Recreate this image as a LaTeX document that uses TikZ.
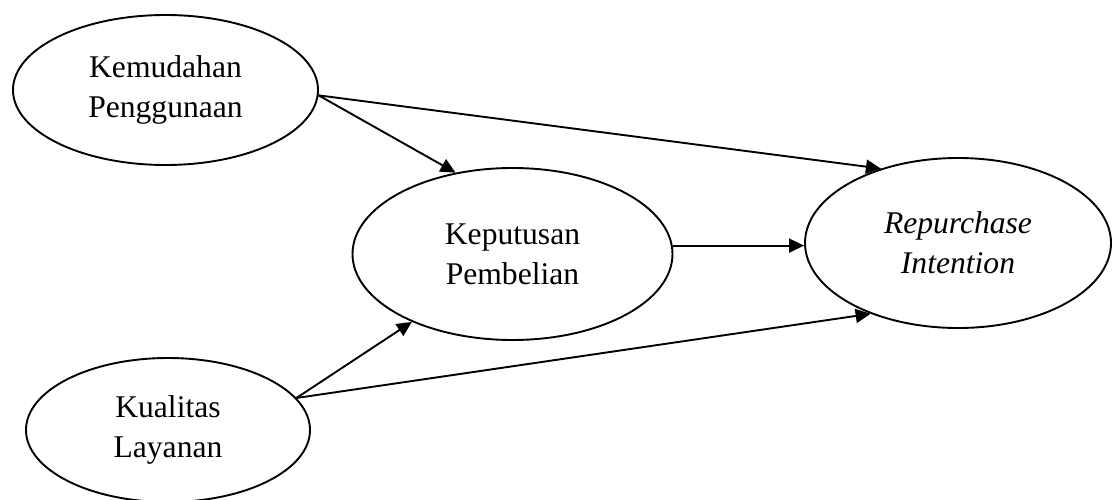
\documentclass[tikz,border=0pt]{standalone}
\usepackage{fontspec}
\setmainfont{Liberation Serif}
\usetikzlibrary{arrows.meta,shapes.geometric}

\begin{document}
\begin{tikzpicture}[x=1pt,y=1pt,
  var/.style={draw,ellipse,line width=1.9pt,align=center,inner sep=0pt,
    font=\fontsize{31.6}{40}\selectfont},
  ed/.style={-{Triangle[length=15pt,width=14pt]},line width=1.9pt}]
\useasboundingbox (0,0) rectangle (1117,499);
\node[var,minimum width=305pt,minimum height=150pt] (km) at (165.5,409)
  {Kemudahan\\Penggunaan};
\node[var,minimum width=320pt,minimum height=172pt] (kp) at (512.5,245)
  {Keputusan\\Pembelian};
\node[var,minimum width=306pt,minimum height=170pt] (rp) at (958,256)
  {\textit{Repurchase}\\\textit{Intention}};
\node[var,minimum width=284pt,minimum height=144pt] (kl) at (168,69)
  {Kualitas\\Layanan};
\draw[ed] (km.-2) -- (rp.136);
\draw[ed] (km.-2) -- (kp.125);
\draw[ed] (kp.3) -- (kp.3 -| rp.west);
\draw[ed] (kl.14) -- (kp.214);
\draw[ed] (kl.14) -- (rp.219);
\end{tikzpicture}
\end{document}
